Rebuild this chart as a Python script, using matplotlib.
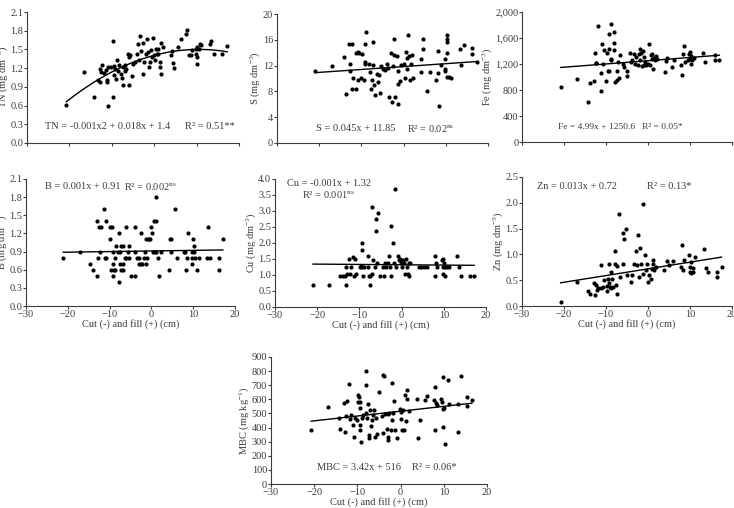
"""
Scatter panels: soil attributes vs cut (-) and fill (+) depth.
"""

import matplotlib
matplotlib.use("Agg")
import matplotlib.pyplot as plt
import numpy as np

plt.rcParams["font.family"] = ["Liberation Serif", "DejaVu Serif"]
plt.rcParams["mathtext.fontset"] = "custom"
plt.rcParams["mathtext.rm"] = "Liberation Serif"
plt.rcParams["mathtext.it"] = "Liberation Serif"
plt.rcParams["mathtext.default"] = "rm"

TXT = "#3c3c3c"

# ── Data ───────────────────────────────────────────────────

tn_x = [-20.7, -16.6, -14.2, -13.3, -12.7, -12.8, -12.5, -12.3, -11.9, -11.3, -11.1, -11.1,
        -10.9, -10.8, -10.2, -9.8, -9.8, -9.5, -9.4, -9.2, -9.0, -8.75, -8.6, -8.4, -7.8,
        -7.7, -7.4, -7.3, -7.0, -6.9, -6.6, -6.25, -6.0, -5.9, -5.6, -5.3, -5.1, -4.5, -4.1,
        -3.9, -3.7, -3.3, -3.1, -2.7, -2.7, -2.3, -1.95, -1.6, -1.4, -1.2, -1.0, -0.8, -0.6,
        -0.2, 0.0, 0.2, 0.4, 0.6, 0.8, 1.0, 1.25, 1.4, 1.6, 1.7, 2.0, 3.9, 4.1, 4.5, 4.7,
        5.7, 6.25, 7.4, 7.8, 8.2, 8.6, 9.0, 9.8, 9.9, 10.0, 10.2, 10.2, 10.5, 10.8, 11.1,
        13.1, 13.4, 14.1, 16.0, 17.2]
tn_y = [0.61, 1.14, 0.73, 1.01, 0.97, 1.19, 1.14, 1.25, 1.12, 1.17, 1.01, 0.98,
        1.22, 0.59, 1.22, 1.64, 0.73, 1.23, 1.09, 1.19, 1.03, 1.33, 1.16, 1.25, 1.11,
        1.05, 1.22, 0.93, 1.16, 1.25, 1.19, 1.42, 1.38, 0.93, 1.41, 1.07, 1.27, 1.30, 1.42,
        1.59, 1.33, 1.71, 1.48, 1.11, 1.61, 1.30, 1.43, 1.66, 1.46, 1.22, 1.30, 1.49, 1.38,
        1.68, 1.41, 1.33, 1.50, 1.42, 1.51, 1.42, 1.22, 1.30, 1.61, 1.11, 1.54, 1.41, 1.48,
        1.28, 1.20, 1.54, 1.66, 1.74, 1.81, 1.41, 1.41, 1.49, 1.50, 1.43, 1.38, 1.26, 1.54,
        1.50, 1.58, 1.57, 1.59, 1.64, 1.42, 1.43, 1.55]
tn_coef = [-0.00086, 0.0181, 1.405]

s_x = [-20.9, -16.9, -14.1, -13.75, -13.0, -12.8, -12.7, -12.3, -12.3, -12.0, -11.3, -11.2,
       -10.9, -10.8, -10.6, -10.0, -9.8, -9.4, -9.2, -9.2, -9.1, -8.8, -8.3, -7.9, -7.8,
       -7.5, -7.3, -7.2, -6.9, -6.7, -6.25, -6.1, -5.9, -5.7, -5.3, -4.8, -4.5, -3.9, -3.75,
       -3.4, -3.0, -2.65, -2.6, -2.3, -2.2, -1.95, -1.6, -1.4, -1.3, -1.25, -0.8, -0.5, 0.0,
       0.3, 0.55, 0.8, 0.9, 1.15, 1.3, 1.6, 1.7, 1.95, 2.2, 4.1, 4.2, 4.7, 4.7, 5.6, 6.25,
       7.7, 8.2, 8.2, 8.4, 8.75, 9.7, 9.8, 9.8, 10.2, 10.2, 10.2, 10.2, 10.3, 10.8, 11.25,
       13.3, 13.7, 14.2, 16.2, 16.25, 17.3]
s_y = [11.1, 11.9, 13.4, 7.6, 15.4, 12.2, 11.2, 15.3, 8.3, 10.1, 8.3, 14.0,
       14.1, 9.8, 13.9, 10.1, 13.8, 9.8, 12.6, 15.4, 12.2, 17.2, 12.2, 11.0, 8.3,
       9.7, 15.7, 12.1, 9.0, 7.4, 10.75, 9.5, 10.5, 7.7, 11.9, 11.5, 11.3, 12.2, 11.6,
       7.1, 14.0, 6.3, 11.9, 16.1, 13.6, 7.1, 13.5, 9.2, 6.1, 11.2, 9.6, 12.1, 12.2,
       10.1, 14.1, 11.5, 13.2, 16.8, 13.5, 9.8, 12.3, 13.7, 10.1, 11.0, 13.1, 14.5, 16.1, 8.1, 11.0,
       9.8, 10.9, 14.2, 5.8, 12.1, 11.2, 13.1, 11.5, 16.8, 16.1, 15.6, 14.0, 10.2, 10.2, 10.1,
       14.5, 12.1, 15.2, 14.8, 13.8, 12.6]
s_coef = [0.045, 11.85]

fe_x = [-20.8, -16.8, -14.3, -13.8, -12.9, -12.7, -12.5, -12.3, -11.9, -11.3, -11.3, -10.9,
        -10.7, -10.5, -9.9, -9.7, -9.6, -9.4, -9.25, -9.2, -8.9, -8.9, -8.7, -8.1, -8.0,
        -8.0, -7.75, -7.5, -7.35, -7.1, -6.9, -6.6, -5.9, -5.6, -5.1, -5.0, -4.2, -4.0, -3.7,
        -3.4, -3.0, -2.8, -2.45, -2.2, -2.0, -1.8, -1.7, -1.35, -1.2, -1.0, -0.9, -0.6, -0.4,
        -0.1, 0.15, 0.4, 0.6, 0.9, 1.0, 1.2, 1.35, 1.6, 1.8, 2.1, 4.0, 4.35, 4.5, 5.7, 6.2,
        7.8, 8.1, 8.3, 8.5, 8.85, 9.6, 9.8, 10.0, 10.0, 10.2, 10.3, 10.5, 11.0, 13.0, 13.6,
        16.0, 16.0, 17.0]
fe_y = [843, 972, 612, 910, 946, 1368, 1213, 1213, 1789, 781, 1059, 1506,
        1203, 1409, 946, 1368, 1100, 1666, 1434, 1090, 1820, 1265, 1280, 1691, 1522,
        1409, 920, 1100, 956, 1229, 987, 1332, 1193, 1152, 1085, 1008, 1373, 1229, 1265,
        1357, 1193, 1306, 1177, 1357, 1254, 1434, 1368, 1162, 1398, 1177, 1306, 1229, 1177,
        1203, 1501, 1177, 1332, 1280, 1357, 1126, 1296, 1254, 1316, 1280, 1074, 1244, 1296, 1152, 1254,
        1177, 1038, 1347, 1475, 1229, 1254, 1357, 1383, 1280, 1193, 1316, 1254, 1296, 1368, 1229,
        1332, 1265, 1265]
fe_coef = [4.99, 1250.6]

b_x = [-21.1, -17.0, -14.6, -14.0, -13.0, -13.0, -12.8, -12.5, -12.4, -12.1, -11.4, -11.2,
       -10.9, -10.8, -10.0, -9.8, -9.6, -9.5, -9.3, -9.3, -9.2, -9.0, -8.8, -8.8, -8.5,
       -8.0, -7.8, -7.8, -7.6, -7.4, -7.3, -7.2, -6.9, -6.8, -6.8, -6.4, -6.1, -6.0, -5.6,
       -5.3, -5.3, -4.8, -4.0, -4.0, -3.9, -3.4, -3.0, -3.0, -2.6, -2.4, -2.2, -1.8, -1.6,
       -1.4, -1.2, -1.0, -0.8, -0.6, -0.4, 0.0, 0.2, 0.4, 0.6, 0.9, 1.0, 1.2, 1.2, 1.6, 1.7,
       2.2, 4.2, 4.4, 4.6, 4.8, 5.6, 6.1, 7.7, 8.0, 8.2, 8.4, 8.8, 9.6, 9.7, 9.8, 10.0, 10.1,
       10.2, 10.4, 10.8, 11.3, 13.2, 13.6, 14.1, 16.2, 16.2, 17.1]
b_y = [0.8, 0.9, 0.7, 0.6, 0.5, 1.4, 0.8, 1.3, 0.9, 1.3, 1.6, 0.8,
       1.4, 0.8, 1.1, 1.3, 0.6, 1.3, 0.5, 0.9, 0.7, 0.6, 0.6, 0.8, 1.0,
       0.9, 0.4, 1.2, 0.7, 0.9, 0.6, 1.0, 0.6, 1.0, 0.7, 0.8, 0.8, 1.3, 0.9,
       1.0, 0.8, 0.5, 0.5, 0.9, 1.3, 0.8, 0.8, 0.7, 0.7, 1.2, 0.7, 0.8, 0.9,
       0.7, 1.1, 0.8, 1.1, 1.1, 1.1, 1.3, 1.2, 0.9, 1.4, 0.9, 1.8, 1.4, 0.9, 0.8, 0.5,
       0.9, 0.6, 1.1, 0.9, 1.1, 1.6, 0.8, 0.9, 0.9, 0.6, 0.8, 1.2, 0.9, 0.7, 0.8, 1.1, 1.0,
       0.9, 0.8, 0.6, 0.8, 0.8, 1.3, 0.8, 0.8, 0.6, 1.1]
b_coef = [0.001, 0.91]

cu_x = [-21.0, -17.1, -14.5, -14.0, -13.5, -13.1, -13.1, -12.9, -12.5, -12.3, -12.1, -11.5,
        -11.3, -11.1, -10.9, -9.9, -9.7, -9.5, -9.4, -9.3, -9.1, -8.8, -7.9, -7.9, -7.7,
        -7.5, -7.4, -7.1, -6.9, -6.7, -6.35, -6.1, -6.0, -5.8, -5.6, -5.2, -4.4, -4.1, -4.0,
        -3.6, -3.2, -2.9, -2.8, -2.4, -2.4, -2.0, -1.8, -1.5, -1.35, -0.95, -0.7, -0.4, -0.25,
        0.0, 0.25, 0.55, 0.8, 1.0, 1.2, 1.4, 1.7, 1.8, 2.1, 4.2, 4.6, 5.2, 6.0, 7.9, 8.0,
        8.2, 8.3, 9.5, 9.7, 9.8, 9.9, 10.1, 10.2, 10.3, 10.7, 11.3, 13.1, 13.5, 14.1, 16.1,
        17.2]
cu_y = [0.70, 0.70, 0.97, 0.97, 0.97, 1.24, 0.70, 1.02, 1.51, 1.02, 1.24, 1.56,
        0.97, 1.51, 1.02, 1.24, 1.28, 1.99, 1.78, 1.26, 0.97, 1.24, 1.60, 1.24, 0.97,
        0.70, 0.97, 1.02, 3.14, 1.47, 1.24, 2.36, 2.74, 1.39, 2.93, 0.97, 1.24, 0.97, 1.39,
        1.24, 1.39, 1.60, 1.24, 2.53, 0.97, 1.99, 1.39, 3.70, 1.24, 1.60, 1.47, 1.51, 1.39,
        1.24, 1.47, 1.39, 1.02, 1.51, 1.24, 1.02, 1.39, 0.97, 1.39, 1.24, 1.24, 1.24, 1.24, 1.60, 0.97,
        1.39, 1.24, 1.47, 1.24, 1.51, 1.02, 1.39, 0.97, 1.24, 1.24, 1.24, 1.60, 1.24, 0.97, 0.97,
        0.97]
cu_coef = [-0.001, 1.32]

zn_x = [-20.8, -16.8, -14.4, -13.8, -12.9, -12.7, -12.5, -12.2, -11.9, -11.3, -11.1, -10.8,
        -10.5, -9.8, -9.7, -9.5, -9.4, -9.2, -9.0, -8.9, -8.7, -8.5, -8.3, -7.9, -7.8,
        -7.6, -7.5, -7.3, -6.8, -6.7, -6.0, -5.9, -5.7, -5.3, -4.9, -4.1, -3.7, -3.3, -2.9,
        -2.7, -2.4, -2.1, -1.9, -1.6, -1.3, -1.1, -0.8, -0.55, -0.2, 0.0, 0.3, 0.6, 0.9,
        1.1, 1.3, 1.4, 1.8, 3.8, 4.6, 5.0, 6.0, 7.9, 8.2, 8.4, 8.6, 9.8, 9.9, 10.0, 10.2,
        10.3, 10.6, 10.8, 11.3, 13.3, 13.7, 14.3, 16.5, 16.5, 17.5]
zn_y = [0.08, 0.47, 0.29, 0.24, 0.44, 0.21, 0.40, 0.31, 0.34, 0.79, 0.34, 0.37,
        0.51, 0.38, 0.29, 0.53, 0.82, 0.44, 0.37, 0.34, 0.66, 0.53, 0.37, 0.82, 1.07,
        0.40, 0.77, 0.23, 1.78, 0.56, 0.82, 1.41, 1.29, 1.49, 0.60, 0.47, 0.60, 0.82, 1.07,
        0.79, 1.38, 0.56, 1.12, 0.82, 1.98, 0.62, 0.99, 0.69, 0.82, 0.47, 0.60, 0.53, 0.71,
        0.82, 0.90, 0.69, 0.76, 0.69, 0.87, 0.79, 0.87, 0.76, 1.18, 0.69, 0.89, 0.99, 0.66, 0.76, 0.63,
        0.86, 0.73, 0.66, 0.95, 1.10, 0.73, 0.66, 0.66, 0.56, 0.76]
zn_coef = [0.013, 0.72]

mbc_x = [-20.7, -16.8, -14.3, -14.0, -13.1, -12.8, -12.6, -12.5, -12.0, -11.6, -11.4, -11.1,
         -10.9, -10.6, -10.1, -9.9, -9.8, -9.7, -9.5, -9.5, -9.4, -9.3, -9.1, -9.0, -8.7,
         -8.1, -8.0, -7.9, -7.75, -7.5, -7.4, -7.2, -7.0, -6.9, -6.6, -6.4, -6.1, -6.0, -5.7,
         -5.4, -5.0, -4.4, -4.1, -4.0, -3.9, -3.5, -3.1, -3.0, -2.9, -2.9, -2.7, -2.3, -2.1,
         -1.9, -1.8, -1.55, -1.2, -0.9, -0.2, 0.0, 0.2, 0.4, 0.6, 0.85, 1.0, 1.2, 1.4, 1.55,
         1.9, 3.9, 4.1, 4.4, 5.7, 6.2, 7.7, 7.9, 8.0, 8.3, 8.5, 9.3, 9.5, 9.7, 9.8, 9.9, 10.1,
         10.3, 10.9, 11.2, 13.2, 13.4, 14.0, 15.3, 15.4, 16.5]
mbc_y = [386, 547, 469, 389, 575, 365, 481, 589, 712, 464, 488, 417,
         330, 471, 457, 629, 582, 617, 417, 382, 542, 582, 299, 471, 488,
         504, 700, 799, 469, 570, 327, 346, 523, 410, 452, 488, 523, 335, 471,
         351, 653, 481, 363, 775, 763, 495, 393, 330, 311, 495, 500, 386, 719,
         452, 504, 589, 382, 327, 528, 464, 511, 386, 523, 386, 629, 448, 605, 664,
         516, 601, 323, 457, 598, 624, 594, 688, 386, 575, 558, 605, 582, 528, 405, 759, 542,
         287, 735, 570, 565, 370, 768, 551, 617, 598]
mbc_coef = [3.42, 516]

# ── Layout (pixel boxes: left, right, top, bottom) ─────────

W, H = 734, 508


def make_ax(fig, left, right, top, bottom):
    return fig.add_axes([left / W, 1 - bottom / H, (right - left) / W, (bottom - top) / H])


def style(ax, ylim, ystep, ylabel, xlabels=True, yfmt=None):
    ax.set_xlim(-30, 20)
    ax.set_ylim(0, ylim)
    ax.set_xticks(np.arange(-30, 21, 10))
    ax.set_yticks(np.arange(0, ylim + ystep / 2, ystep))
    if yfmt:
        ax.set_yticklabels([yfmt(v) for v in ax.get_yticks()])
    for side in ("top", "right"):
        ax.spines[side].set_visible(False)
    for side in ("left", "bottom"):
        ax.spines[side].set_color(TXT)
        ax.spines[side].set_linewidth(0.8)
    ax.tick_params(direction="out", length=2.2, width=0.8, colors=TXT,
                   labelsize=7.5, pad=0.5, labelbottom=xlabels)
    ax.set_ylabel(ylabel, fontsize=7.5, color=TXT, labelpad=0.5)
    if xlabels:
        ax.set_xlabel("Cut (-) and fill (+) (cm)", fontsize=7.5, color=TXT, labelpad=0)


def scatter_fit(ax, x, y, coef):
    ax.plot(x, y, "o", color="black", markersize=3, markeredgewidth=0, clip_on=False)
    xs = np.linspace(min(x), max(x), 100)
    ax.plot(xs, np.polyval(coef, xs), color="black", linewidth=1.0)


def note(ax, x, y, s, size=7.5):
    ax.text(x, y, s, fontsize=size, color=TXT, va="center", ha="left")


fig = plt.figure(figsize=(W / 100, H / 100), dpi=100)
fig.patch.set_facecolor("white")

# Fila 1
ax = make_ax(fig, 27, 239, 12, 143)
scatter_fit(ax, tn_x, tn_y, tn_coef)
style(ax, 2.1, 0.3, "TN (mg dm$^{-3}$)", xlabels=False, yfmt=lambda v: f"{v:.1f}")
note(ax, -25.8, 0.26, "TN = -0.001x2 + 0.018x + 1.4")
note(ax, 7.3, 0.26, "R² = 0.51**")

ax = make_ax(fig, 277, 488, 14, 143)
scatter_fit(ax, s_x, s_y, s_coef)
style(ax, 20, 4, "S (mg dm$^{-3}$)", xlabels=False)
note(ax, -20.8, 2.3, "S = 0.045x + 11.85")
note(ax, 0.8, 2.3, "R² = 0.02$^{ns}$")

ax = make_ax(fig, 522, 732, 12, 142)
scatter_fit(ax, fe_x, fe_y, fe_coef)
style(ax, 2000, 400, "Fe (mg dm$^{-3}$)", xlabels=False, yfmt=lambda v: f"{v:,.0f}")
note(ax, -21.4, 231, "Fe = 4.99x + 1250.6", size=6.8)
note(ax, -1.4, 231, "R² = 0.05*", size=6.8)

# Fila 2
ax = make_ax(fig, 26, 235, 179, 306)
scatter_fit(ax, b_x, b_y, b_coef)
style(ax, 2.1, 0.3, "B (mg dm$^{-3}$)", yfmt=lambda v: f"{v:.1f}")
note(ax, -25.5, 1.98, "B = 0.001x + 0.91")
note(ax, -6.5, 1.98, "R² = 0.002$^{ns}$")

ax = make_ax(fig, 275, 486, 179, 307)
scatter_fit(ax, cu_x, cu_y, cu_coef)
style(ax, 4.0, 0.5, "Cu (mg dm$^{-3}$)", yfmt=lambda v: f"{v:.1f}")
note(ax, -27.2, 3.87, "Cu = -0.001x + 1.32")
note(ax, -23.6, 3.53, "R² = 0.001$^{ns}$")

ax = make_ax(fig, 522, 732, 177, 306)
scatter_fit(ax, zn_x, zn_y, zn_coef)
style(ax, 2.5, 0.5, "Zn (mg dm$^{-3}$)", yfmt=lambda v: f"{v:.1f}")
note(ax, -26.4, 2.31, "Zn = 0.013x + 0.72")
note(ax, -0.2, 2.31, "R² = 0.13*")

# Fila 3
ax = make_ax(fig, 271, 487, 357, 484)
scatter_fit(ax, mbc_x, mbc_y, mbc_coef)
style(ax, 900, 100, "MBC (mg kg$^{-1}$)")
note(ax, -19.4, 120, "MBC = 3.42x + 516")
note(ax, 2.6, 120, "R² = 0.06*")

fig.savefig("out.png", dpi=100, facecolor="white")
plt.close(fig)
